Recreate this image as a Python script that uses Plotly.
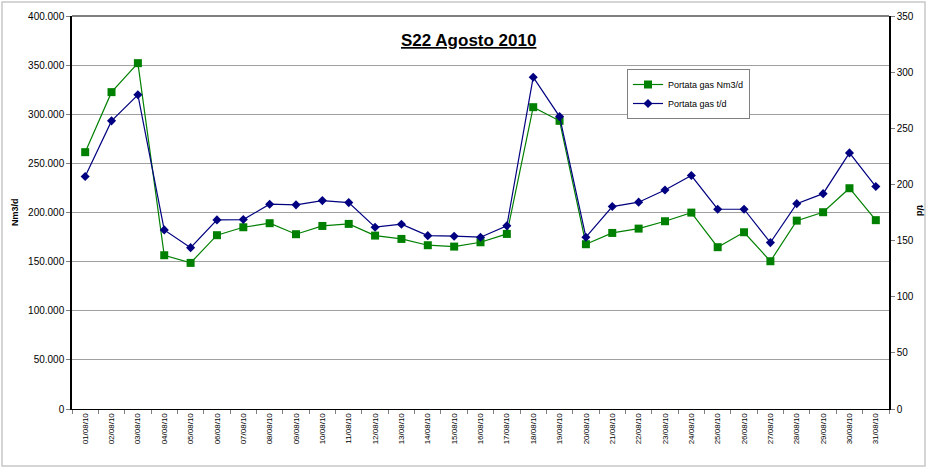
import plotly.graph_objects as go

dates = ["01/08/10","02/08/10","03/08/10","04/08/10","05/08/10","06/08/10","07/08/10","08/08/10",
         "09/08/10","10/08/10","11/08/10","12/08/10","13/08/10","14/08/10","15/08/10","16/08/10",
         "17/08/10","18/08/10","19/08/10","20/08/10","21/08/10","22/08/10","23/08/10","24/08/10",
         "25/08/10","26/08/10","27/08/10","28/08/10","29/08/10","30/08/10","31/08/10"]

portata_nm3 = [261400, 322500, 352000, 156500, 148700, 176900, 185000, 189100,
               177900, 186300, 188400, 176500, 173100, 166700, 165300, 169700,
               178200, 307200, 293300, 167700, 179200, 183600, 191100, 199900,
               164700, 179900, 150400, 191700, 200300, 224700, 192200]

portata_t = [207.0, 256.6, 279.8, 159.5, 143.7, 168.4, 168.7, 182.4,
             181.8, 185.6, 183.8, 161.9, 164.6, 154.4, 153.9, 153.0,
             163.1, 295.5, 260.4, 153.0, 180.3, 184.2, 195.1, 207.9,
             177.9, 177.9, 148.2, 182.9, 191.8, 228.1, 198.1]

left_ticks = [0, 50000, 100000, 150000, 200000, 250000, 300000, 350000, 400000]
left_labels = ["0", "50.000", "100.000", "150.000", "200.000", "250.000", "300.000", "350.000", "400.000"]
right_ticks = [0, 50, 100, 150, 200, 250, 300, 350]

FONT = "Liberation Sans, Arial, sans-serif"
L, R, T, B = 72, 889, 16, 409
PW, PH = R - L, B - T

def px(x):
    return (x - L) / PW

def py(y):
    return (B - y) / PH

fig = go.Figure()
fig.add_trace(go.Scatter(
    x=dates, y=portata_nm3, name="Portata gas Nm3/d", mode="lines+markers",
    line=dict(color="#008000", width=1.2),
    marker=dict(symbol="square", size=8, color="#008000"),
))
fig.add_trace(go.Scatter(
    x=dates, y=portata_t, name="Portata gas t/d", mode="lines+markers", yaxis="y2",
    line=dict(color="#000080", width=1.2),
    marker=dict(symbol="diamond", size=7, color="#000080"),
))

fig.update_layout(
    width=928, height=470,
    margin=dict(l=L, r=928 - R, t=T, b=470 - B, autoexpand=False),
    paper_bgcolor="white", plot_bgcolor="white",
    font=dict(family=FONT, size=10, color="#000000"),
    showlegend=True,
    legend=dict(x=px(627), y=py(69), xanchor="left", yanchor="top",
                bordercolor="#808080", borderwidth=1, bgcolor="white",
                font=dict(size=9, family=FONT), tracegroupgap=0,
                itemwidth=30),
    xaxis=dict(type="category", showgrid=False, showline=True, linecolor="#000000",
               linewidth=1, ticks="outside", ticklen=4, tickcolor="#808080",
               tickson="boundaries", tickangle=-90, automargin=False,
               tickfont=dict(size=8, family=FONT, color="#000000"), range=[-0.5, 30.5]),
    yaxis=dict(range=[0, 400000], tickvals=left_ticks, ticktext=left_labels,
               showgrid=True, gridcolor="#a0a0a0", gridwidth=1,
               showline=True, linecolor="#000000", linewidth=1.5,
               ticks="outside", ticklen=4, tickcolor="#808080", automargin=False,
               zeroline=False, tickfont=dict(size=10, family=FONT)),
    yaxis2=dict(range=[0, 350], tickvals=right_ticks, overlaying="y", side="right",
                showgrid=False, showline=True, linecolor="#000000", linewidth=1.5,
                ticks="outside", ticklen=4, tickcolor="#808080", automargin=False,
                zeroline=False, tickfont=dict(size=10, family=FONT)),
    annotations=[
        dict(text="<b><u>S22 Agosto 2010</u></b>", xref="paper", yref="paper",
             x=px(468), y=py(40), xanchor="center", yanchor="middle",
             showarrow=False, font=dict(size=17, family=FONT, color="#000000")),
        dict(text="<b>Nm3/d</b>", xref="paper", yref="paper", x=px(15), y=py(212),
             xanchor="center", yanchor="middle", textangle=-90, showarrow=False,
             font=dict(size=9, family=FONT, color="#000000")),
        dict(text="<b>t/d</b>", xref="paper", yref="paper", x=px(920), y=py(210),
             xanchor="center", yanchor="middle", textangle=90, showarrow=False,
             font=dict(size=9, family=FONT, color="#000000")),
    ],
    shapes=[
        dict(type="line", xref="paper", yref="paper", x0=0, x1=1, y0=1, y1=1,
             line=dict(color="#808080", width=2)),
        dict(type="rect", xref="paper", yref="paper",
             x0=px(2), x1=px(925), y0=py(466), y1=py(2),
             line=dict(color="#c8c8c8", width=1.5), fillcolor="rgba(0,0,0,0)", layer="below"),
    ],
)

fig.write_html("out.html", config={"displayModeBar": False},
               post_script="document.body.style.margin='0';document.body.style.padding='0';")
